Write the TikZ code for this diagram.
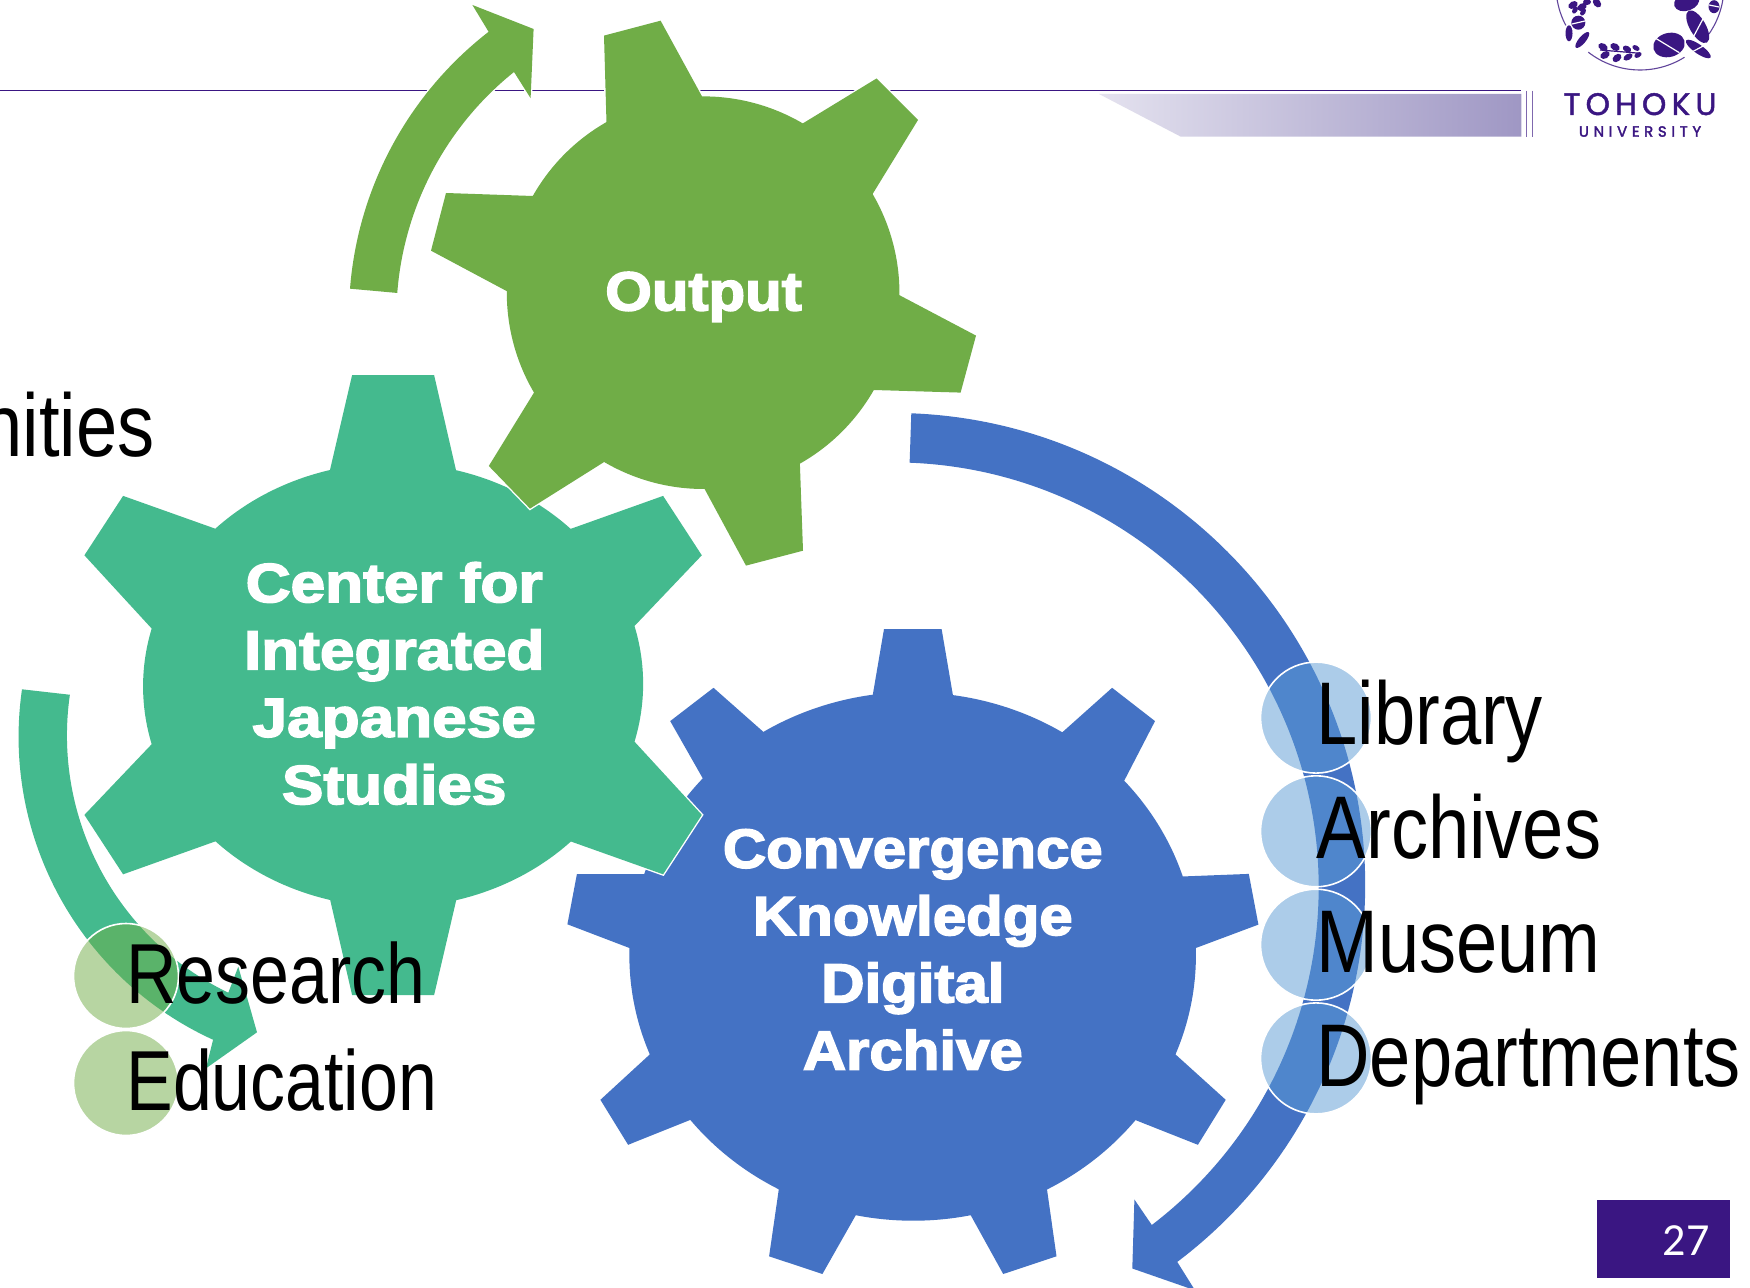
\documentclass[tikz,border=0pt]{standalone}
\usepackage{fontspec}
\setmainfont{Liberation Sans}
\newfontfamily\gearfont[FakeStretch=1.09,FakeBold=3]{Liberation Sans Bold}
\newfontfamily\gearfontw[FakeStretch=1.13,FakeBold=3]{Liberation Sans Bold}
\newfontfamily\slimfont[FakeStretch=0.833]{Liberation Sans}
\newfontfamily\slimfontb[FakeStretch=0.82]{Liberation Sans}
\newfontfamily\pagefont{Carlito}
\newfontfamily\logofont[LetterSpace=17,FakeBold=1.5]{Poppins}
\newfontfamily\logofontb[LetterSpace=32,FakeBold=2.5]{Poppins}
\definecolor{tohoku}{HTML}{3A1682}
\definecolor{gearblue}{HTML}{4472C4}
\definecolor{geargreen}{HTML}{70AD47}
\definecolor{gearteal}{HTML}{44BA8E}
\definecolor{dotblue}{HTML}{5B9BD5}
\definecolor{bandleft}{HTML}{E4E2EF}
\definecolor{bandright}{HTML}{9F97C4}
\tikzset{
  x=0.5pt,y=-0.5pt,
  halo/.style={preaction={draw=white,line width=1.4pt,line join=miter}},
  blueshape/.style={halo,fill=gearblue},
  greenshape/.style={halo,fill=geargreen},
  tealshape/.style={halo,fill=gearteal},
  gearlabel/.style={text=white,align=center,inner sep=0pt,anchor=base,
     font=\gearfont\fontsize{27.5}{33.65}\selectfont},
  gearlabelw/.style={gearlabel,font=\gearfontw\fontsize{27.5}{33.65}\selectfont},
  bigword/.style={text=black,inner sep=0pt,anchor=base west,
     font=\slimfont\fontsize{44.5}{50}\selectfont},
  bigwordb/.style={text=black,inner sep=0pt,anchor=base west,
     font=\slimfontb\fontsize{42.6}{50}\selectfont},
  dotb/.style={fill=dotblue,fill opacity=0.5,draw=white,line width=0.8pt},
  dotg/.style={fill=geargreen,fill opacity=0.5,draw=white,line width=0.8pt},
  leaf/.style={fill=tohoku,draw=none},
  leafcut/.style={draw=white,line width=0.6pt},
  ring/.style={draw=tohoku!80,line width=0.55pt},
}
\begin{document}
\begin{tikzpicture}
\path[use as bounding box] (0,0) rectangle (1750,1288);
\clip (0,0) rectangle (1750,1288);
\fill[white] (0,0) rectangle (1750,1288);
% header
\draw[tohoku,line width=0.75pt] (0,90.7) -- (1521.4,90.7);
\path[left color=bandleft,right color=bandright] (1099,94) -- (1521.4,94) -- (1521.4,136.7) -- (1180.8,136.7) -- cycle;
\draw[tohoku!65,line width=0.5pt] (1526,90.7) -- (1526,136.7);
\draw[tohoku!65,line width=0.5pt] (1532.6,90.7) -- (1532.6,136.7);
% logo wreath
\path[ring] (1640,-14) ++(172:84) arc[start angle=172,end angle=152,radius=84];
\path[ring] (1640,-14) ++(128:84) arc[start angle=128,end angle=58,radius=84];
\path[ring] (1640,-14) ++(35:84) arc[start angle=35,end angle=9,radius=84];
\fill[leaf,rotate around={15:(1669,45)}] (1669,45) ellipse[x radius=16,y radius=12];
\draw[leafcut] (1654,37.3) -- (1679.3,52.7);
\fill[leaf,rotate around={-60:(1697.7,26.7)}] (1697.7,26.7) ellipse[x radius=18.3,y radius=8];
\draw[leafcut] (1690,43.3) -- (1705,15);
\fill[leaf,rotate around={-35:(1698.3,49)}] (1698.3,49) ellipse[x radius=14.9,y radius=4.5];
\draw[leafcut] (1690,53) -- (1707,44);
\fill[leaf,rotate around={20:(1686.7,1.7)}] (1686.7,1.7) ellipse[x radius=13,y radius=9];
\fill[leaf] (1714,6.7) ellipse[x radius=5.5,y radius=6.5];
\draw[leafcut] (1709,5) -- (1719,7);
\fill[leaf] (1578.3,22.7) ellipse[x radius=7,y radius=7];
\draw[leafcut] (1572,24) -- (1585,21);
\fill[leaf] (1569,33.3) ellipse[x radius=3.5,y radius=8];
\fill[leaf,rotate around={50:(1582.3,40)}] (1582.3,40) ellipse[x radius=10,y radius=3.5];
\draw[tohoku,line width=0.6pt] (1600,50) -- (1640,53.3);
\fill[leaf,rotate around={-30:(1603,47)}] (1603,47) ellipse[x radius=5,y radius=3.5];
\fill[leaf,rotate around={30:(1605,55)}] (1605,55) ellipse[x radius=5,y radius=3.5];
\fill[leaf,rotate around={-30:(1615,47)}] (1615,47) ellipse[x radius=5,y radius=3.5];
\fill[leaf,rotate around={40:(1617,58)}] (1617,58) ellipse[x radius=5,y radius=3.5];
\fill[leaf,rotate around={-30:(1627,49)}] (1627,49) ellipse[x radius=4.5,y radius=3];
\fill[leaf,rotate around={30:(1628,57)}] (1628,57) ellipse[x radius=5,y radius=3];
\fill[leaf,rotate around={-30:(1636,48)}] (1636,48) ellipse[x radius=4,y radius=2.5];
\fill[leaf,rotate around={30:(1638,55)}] (1638,55) ellipse[x radius=4,y radius=2.5];
\fill[leaf,rotate around={30:(1573,5)}] (1573,5) ellipse[x radius=5,y radius=3.5];
\fill[leaf,rotate around={30:(1582,7)}] (1582,7) ellipse[x radius=5,y radius=3.5];
\fill[leaf,rotate around={60:(1583,12)}] (1583,12) ellipse[x radius=4,y radius=2.5];
\fill[leaf,rotate around={60:(1575,10)}] (1575,10) ellipse[x radius=4,y radius=2.5];
\fill[leaf] (1587,2) ellipse[x radius=4,y radius=3];
\fill[leaf,rotate around={-50:(1597,3)}] (1597,3) ellipse[x radius=5,y radius=3.5];
% logo words
\node[inner sep=0pt,anchor=base,text=tohoku,font=\logofont\fontsize{15.5}{18}\selectfont] (tohokuword) at (1640,115) {TOHOKU};
\node[inner sep=0pt,anchor=base,text=tohoku,font=\logofontb\fontsize{7.4}{9}\selectfont] (univword) at (1640,136.7) {UNIVERSITY};
% page number
\fill[tohoku] (1597,1200) rectangle (1730,1278);
\node[inner sep=0pt,anchor=base,text=white,font=\pagefont\fontsize{23}{26}\selectfont] (pagenum) at (1686,1255) {27};
% clipped word
\node[bigword,anchor=base east] (nities) at (155,456.7) {nities};
% arrows
\path[tealshape] (22,689.3) arc[start angle=188.2,end angle=114.6,radius=333.2] -- (206,1068.3) -- (257,1032.3) -- (238.3,966.7) -- (228.3,992.7) arc[start angle=115.8,end angle=188.2,radius=285.7] -- cycle;
\path[blueshape] (911.3,413.3) arc[start angle=-87.8,end angle=53,radius=472] -- (1195,1290.3) -- (1132.3,1268.5) -- (1134.4,1199.5) -- (1151.8,1225) arc[start angle=52.6,end angle=-87.85,radius=425] -- cycle;
\path[greenshape] (350,288.7) arc[start angle=184.5,end angle=232.2,radius=361] -- (472.4,5) -- (533.6,29) -- (530.6,98.2) -- (514,72) arc[start angle=231.3,end angle=184.4,radius=314] -- cycle;
% blue gear
\begin{scope}[shift={(912.8,955.4)}]
\path[blueshape] (-28.8,-326.4) -- (28.8,-326.4) -- (40.1,-260.3)
 arc[start angle=-81.9,end angle=-58.2,x radius=283.4,y radius=265.4]
 -- (199.3,-267.6) -- (242.2,-234.3) -- (211.4,-174.7)
 arc[start angle=-41.8,end angle=-17.8,x radius=283.4,y radius=265.4]
 -- (336,-81.5) -- (345.6,-30.8) -- (283,-7.4)
 arc[start angle=-1.6,end angle=21.9,x radius=283.4,y radius=265.4]
 -- (312.9,144.4) -- (285.1,189.4) -- (222.7,164.7)
 arc[start angle=38.3,end angle=61.8,x radius=283.4,y radius=265.4]
 -- (143.7,300.9) -- (90.4,318.6) -- (57.9,259.8)
 arc[start angle=78.3,end angle=101.7,x radius=283.4,y radius=265.4]
 -- (-90.4,318.6) -- (-143.7,300.9) -- (-134,233.9)
 arc[start angle=118.2,end angle=141.7,x radius=283.4,y radius=265.4]
 -- (-284.7,189.4) -- (-312.4,144.4) -- (-263,99)
 arc[start angle=158.1,end angle=181.6,x radius=283.4,y radius=265.4]
 -- (-345.4,-31.1) -- (-335.9,-81.3) -- (-268.6,-81.3)
 arc[start angle=197.8,end angle=221.8,x radius=283.4,y radius=265.4]
 -- (-242.6,-234.3) -- (-199.3,-267.6) -- (-149.4,-223.5)
 arc[start angle=238.2,end angle=261.9,x radius=283.4,y radius=265.4]
 -- cycle;
\end{scope}
% teal gear
\begin{scope}[shift={(393.1,685.1)}]
\path[tealshape] (-41,-310) -- (41,-310) -- (62.9,-214.9)
 arc[start angle=-75.4,end angle=-44.7,x radius=250,y radius=222]
 -- (270,-189.2) -- (308.7,-129.8) -- (241.4,-59.1)
 arc[start angle=-15.1,end angle=15.1,x radius=250,y radius=222]
 -- (308.7,129.8) -- (270,189.2) -- (177.8,156.4)
 arc[start angle=44.7,end angle=75.4,x radius=250,y radius=222]
 -- (41,310) -- (-41,310) -- (-62.9,214.9)
 arc[start angle=104.6,end angle=135.3,x radius=250,y radius=222]
 -- (-270,189.2) -- (-308.7,129.8) -- (-241.4,59.1)
 arc[start angle=164.9,end angle=195.1,x radius=250,y radius=222]
 -- (-308.7,-129.8) -- (-270,-189.2) -- (-177.8,-156.4)
 arc[start angle=224.7,end angle=255.4,x radius=250,y radius=222]
 -- cycle;
\end{scope}
% green gear
\begin{scope}[shift={(703.5,292.7)}]
\path[greenshape] (-99.5,-257.1) -- (-42.9,-272) -- (-1.5,-196.3)
 arc[start angle=-90.4,end angle=-59.6,radius=196.5]
 -- (173,-214.2) -- (214.5,-172.7) -- (169.1,-98.7)
 arc[start angle=-30.3,end angle=0.6,radius=196.5]
 -- (272.5,42.9) -- (257.1,99.9) -- (170.3,97.3)
 arc[start angle=29.7,end angle=60.5,radius=196.5]
 -- (99.5,258) -- (42.5,272.9) -- (1.1,196.3)
 arc[start angle=89.7,end angle=120.4,radius=196.5]
 -- (-173.5,215.9) -- (-214.7,173.3) -- (-169.5,99.9)
 arc[start angle=149.5,end angle=180.5,radius=196.5]
 -- (-272.5,-42) -- (-257.5,-99.7) -- (-170.7,-96.7)
 arc[start angle=209.5,end angle=240.3,radius=196.5]
 -- cycle;
\end{scope}
% gear labels
\node[gearlabel] (outputlabel) at (703.5,310.4) {Output};
\node[gearlabelw] (centerlabel) at (394.2,804) {Center for\\Integrated\\Japanese\\Studies};
\node[gearlabel] (cokdalabel) at (912.8,1069.6) {Convergence\\Knowledge\\Digital\\Archive};
% circles
\fill[dotb] (1316,717.6) circle[radius=55.5];
\fill[dotb] (1316,831.3) circle[radius=55.5];
\fill[dotb] (1316,944.7) circle[radius=55.5];
\fill[dotb] (1316,1058.4) circle[radius=55.5];
\fill[dotg] (126,976) circle[radius=52.5];
\fill[dotg] (126,1083) circle[radius=52.5];
% words
\node[bigword] (library) at (1316,744.8) {Library};
\node[bigword] (archives) at (1316.5,858.6) {Archives};
\node[bigword] (museum) at (1316,972.4) {Museum};
\node[bigword] (departments) at (1316,1086) {Departments};
\node[bigwordb] (research) at (126,1003) {Research};
\node[bigwordb] (education) at (126,1110) {Education};
\end{tikzpicture}
\end{document}
